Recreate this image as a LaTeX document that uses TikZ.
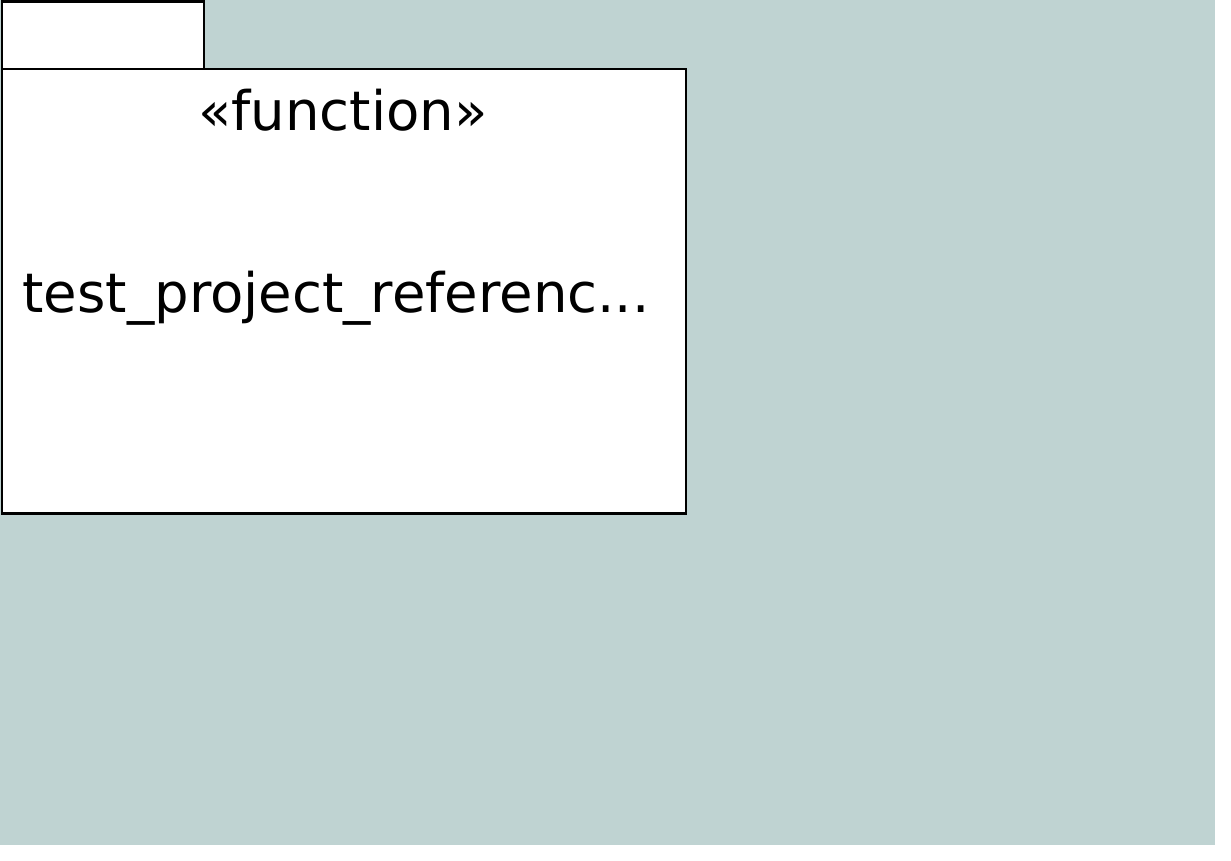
\documentclass[tikz,border=0pt]{standalone}
\usepackage{fontspec}
\setmainfont{DejaVu Sans}
\definecolor{bgteal}{RGB}{191,211,210}
\tikzset{
  pkgline/.style={draw=black, line width=2.5pt, fill=white},
  pkgtext/.style={font=\fontsize{54.5}{60}\selectfont, anchor=base, inner sep=0pt}
}
\begin{document}
\begin{tikzpicture}[x=1pt,y=-1pt]
\useasboundingbox (0,0) rectangle (1231,861);
\fill[white] (0,0) rectangle (1231,861);
\fill[bgteal] (0,0) rectangle (1215,845);
\node[pkgline, rectangle, anchor=north west, minimum width=202pt, minimum height=68pt, inner sep=0pt] (tab) at (0.5,0.5) {};
\node[pkgline, rectangle, anchor=north west, minimum width=684pt, minimum height=444pt, inner sep=0pt] (body) at (0.5,68) {};
\node[pkgtext] (stereo) at (343,131) {«function»};
\node[pkgtext] (name) at (336,312) {test\_project\_referenc...};
\end{tikzpicture}
\end{document}
